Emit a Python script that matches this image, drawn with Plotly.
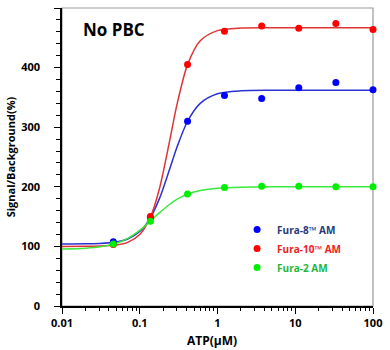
import plotly.graph_objects as go

# ATP concentrations (µM) of the measured points
conc = [0.0457, 0.137, 0.412, 1.23, 3.70, 11.1, 33.3, 100]
fura8 = [108, 148, 310, 353, 348, 366, 375, 363]
fura10 = [103, 150, 405, 461, 470, 466, 474, 464]
fura2 = [104, 142, 188, 199, 201, 201, 200, 200]

# fitted curves
curve_x = [0.01, 0.02, 0.03, 0.05, 0.07, 0.1, 0.137, 0.18, 0.25, 0.3, 0.412, 0.6, 1, 2, 5, 20, 100]
curve8 = [104, 104.3, 105, 107.5, 112.5, 125, 148, 181, 235, 266, 310, 340, 356, 361, 362, 362, 362]
curve10 = [100, 100.1, 100.5, 102.4, 106.8, 120, 149, 198, 286, 337, 405, 445, 462, 466.5, 467, 467, 467]
curve2 = [95.5, 97, 99, 105.4, 113.6, 127, 142.5, 156.6, 172, 178.8, 188, 193.7, 197.7, 199.4, 200, 200, 200]

names = ["Fura-8™ AM", "Fura-10™ AM", "Fura-2 AM"]
x_tickvals = [0.01, 0.1, 1, 10, 100]
x_ticktext = ["0.01", "0.1", "1", "10", "100"]
y_tickvals = [0, 100, 200, 300, 400, 500]

FONT = "Open Sans"
marker_cols = ["#0000ff", "#ff0000", "#00ee00"]
line_cols = ["#2a32d4", "#e03434", "#3de83d"]
text_cols = ["#1f3a7a", "#ee1c1c", "#1cb83c"]

fig = go.Figure()
for cy, lc in zip([curve8, curve10, curve2], line_cols):
    fig.add_trace(go.Scatter(x=curve_x, y=cy, mode="lines",
                             line=dict(color=lc, width=1.5, shape="spline", smoothing=0.8),
                             showlegend=False, hoverinfo="skip"))
for ys, nm, mc, tc in zip([fura8, fura10, fura2], names, marker_cols, text_cols):
    fig.add_trace(go.Scatter(x=conc, y=ys, mode="markers",
                             marker=dict(color=mc, size=7),
                             name=f"<span style='color:{tc}'><b>{nm}</b></span>",
                             cliponaxis=False))

fig.update_layout(
    width=390, height=350,
    margin=dict(l=62, r=11, t=8, b=44),
    paper_bgcolor="white", plot_bgcolor="white",
    font=dict(family=FONT, size=11, color="black"),
    showlegend=True,
    legend=dict(x=0.563, y=0.305, xanchor="left", yanchor="top",
                bgcolor="rgba(0,0,0,0)", font=dict(size=10, family=FONT),
                itemwidth=30, tracegroupgap=0),
    xaxis=dict(type="log", range=[-2, 2], tickvals=x_tickvals, ticktext=x_ticktext,
               showline=True, linecolor="black", linewidth=1.5,
               ticks="outside", ticklen=6, tickwidth=1, tickcolor="black",
               minor=dict(ticks="outside", ticklen=3, tickcolor="black", dtick="D1"),
               showgrid=False, zeroline=False,
               tickfont=dict(family=FONT, size=11, color="black", weight="bold")),
    yaxis=dict(range=[0, 500], tickvals=y_tickvals,
               showline=True, linecolor="black", linewidth=1.5,
               ticks="outside", ticklen=6, tickwidth=1, tickcolor="black",
               minor=dict(ticks="outside", ticklen=4, tickcolor="black", dtick=20),
               showgrid=False, zeroline=False, ticklabelstandoff=12,
               tickfont=dict(family=FONT, size=11, color="black", weight="bold")),
    shapes=[dict(type="rect", xref="paper", yref="paper", x0=0, y0=0, x1=1, y1=1,
                 line=dict(color="#999999", width=1.2), layer="below")],
    annotations=[
        dict(text="<b>No PBC</b>", xref="paper", yref="paper", x=0.167, y=0.928,
             xanchor="center", yanchor="middle",
             showarrow=False, font=dict(size=17, family=FONT, color="black")),
        dict(text="<b>Signal/Background(%)</b>", xref="paper", yref="paper", x=-0.166, y=0.5,
             xanchor="center", yanchor="middle",
             textangle=-90, showarrow=False, font=dict(size=11, family=FONT, color="black")),
        dict(text="<b>ATP(μM)</b>", xref="paper", yref="paper", x=0.483, y=-0.116,
             xanchor="center", yanchor="middle",
             showarrow=False, font=dict(size=12, family=FONT, color="black")),
    ],
)

fig.write_html("out.html")
